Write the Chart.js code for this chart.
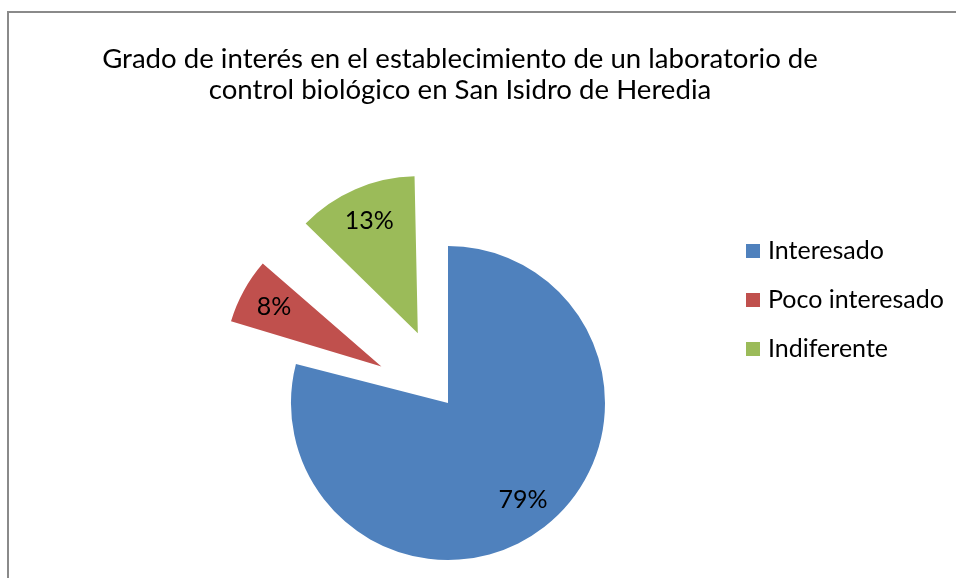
<!DOCTYPE html>
<html><head><meta charset="utf-8">
<script src="https://cdn.jsdelivr.net/npm/chart.js@4.4.1/dist/chart.umd.min.js"></script>
<style>html,body{margin:0;padding:0;background:#fff}canvas{display:block}</style>
</head><body>
<canvas id="c" width="956" height="578"></canvas>
<script>
const categories = ['Interesado', 'Poco interesado', 'Indiferente'];
const values = [79, 8, 13];
const colors = ['#4F81BD', '#C0504D', '#9BBB59'];
const explode = [0, 304, 304];
const titleLines = ['Grado de interés en el establecimiento de un laboratorio de', 'control biológico en San Isidro de Heredia'];

const FONT = 'Lato, "Open Sans", sans-serif';

const framePlugin = {
  id: 'frame',
  beforeDraw(chart) {
    const ctx = chart.ctx;
    ctx.save();
    ctx.strokeStyle = '#8a8a8a';
    ctx.lineWidth = 2;
    ctx.beginPath();
    ctx.moveTo(8, 600); ctx.lineTo(8, 12); ctx.lineTo(990, 12);
    ctx.stroke();
    ctx.restore();
  }
};

// keep exploded slices at the same radius as the rest of the pie
const radiusPlugin = {
  id: 'keepRadius',
  afterDatasetUpdate(chart, args) {
    args.meta.data.forEach(arc => {
      const off = (arc.options.offset || 0) / 4;
      const fix = 1 - Math.sin(Math.min(Math.PI, arc.circumference || 0));
      arc.outerRadius = arc.outerRadius - off * fix;
    });
  }
};

const titlePlugin = {
  id: 'ttl',
  afterDraw(chart) {
    const ctx = chart.ctx;
    ctx.save();
    ctx.fillStyle = '#000';
    ctx.font = '27.6px ' + FONT;
    ctx.textAlign = 'center';
    ctx.textBaseline = 'alphabetic';
    titleLines.forEach((t, i) => ctx.fillText(t, 460, 68 + i * 31));
    ctx.restore();
  }
};

const legendPlugin = {
  id: 'lgd',
  afterDraw(chart) {
    const ctx = chart.ctx;
    ctx.save();
    ctx.font = '25px ' + FONT;
    ctx.textBaseline = 'alphabetic';
    ctx.textAlign = 'left';
    chart.data.labels.forEach((lab, i) => {
      const base = 259 + i * 49;
      ctx.fillStyle = chart.data.datasets[0].backgroundColor[i];
      ctx.fillRect(746, base - 15, 14, 14);
      ctx.fillStyle = '#000';
      ctx.fillText(lab, 768, base);
    });
    ctx.restore();
  }
};

const labelPlugin = {
  id: 'lbl',
  afterDatasetsDraw(chart) {
    const ctx = chart.ctx;
    const meta = chart.getDatasetMeta(0);
    ctx.save();
    ctx.font = '25px ' + FONT;
    ctx.fillStyle = '#000';
    ctx.textAlign = 'center';
    ctx.textBaseline = 'middle';
    meta.data.forEach((arc, i) => {
      const mid = (arc.startAngle + arc.endAngle) / 2;
      const off = (arc.options.offset || 0) / 4;
      const fix = 1 - Math.sin(Math.min(Math.PI, arc.circumference || 0));
      const R = arc.outerRadius + off * fix;
      const d = off + 0.78 * R;
      ctx.fillText(chart.data.datasets[0].data[i] + '%', arc.x + Math.cos(mid) * d, arc.y + Math.sin(mid) * d);
    });
    ctx.restore();
  }
};

new Chart(document.getElementById('c'), {
  type: 'pie',
  data: {
    labels: categories,
    datasets: [{
      data: values,
      backgroundColor: colors,
      borderWidth: 0,
      offset: explode,
      radius: 157,
      clip: false
    }]
  },
  options: {
    responsive: false,
    animation: false,
    layout: { padding: { left: 0, right: 60, top: 228, bottom: 0 } },
    plugins: { legend: { display: false }, title: { display: false }, tooltip: { enabled: false } }
  },
  plugins: [framePlugin, radiusPlugin, titlePlugin, legendPlugin, labelPlugin]
});
</script>
</body></html>
